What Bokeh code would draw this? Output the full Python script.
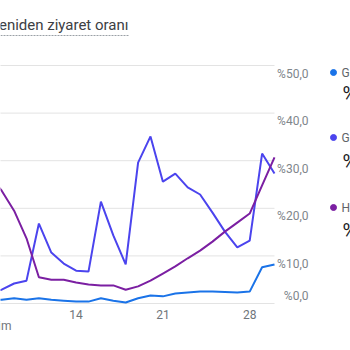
from bokeh.plotting import figure
from bokeh.models import Range1d, ColumnDataSource
from bokeh.embed import file_html
from bokeh.resources import INLINE
from bokeh.core.properties import value

# ---------------- data ----------------
title_text = "Yeniden ziyaret oranı"
days = list(range(7, 31))
blue_vals = [0.9, 0.8, 1.1, 0.8, 1.1, 0.8, 0.6, 0.4, 0.4, 1.1, 0.6, 0.2,
             1.1, 1.7, 1.5, 2.1, 2.3, 2.5, 2.5, 2.4, 2.3, 2.5, 7.6, 8.2]
indigo_vals = [2.5, 2.9, 4.2, 4.8, 16.8, 10.7, 8.4, 6.9, 6.7, 21.4, 14.3, 8.2,
               29.6, 35.1, 25.6, 27.3, 24.4, 22.9, 19.1, 15.1, 11.8, 13.2, 31.5, 27.3]
purple_vals = [27.0, 23.7, 19.5, 13.7, 5.5, 5.0, 5.0, 4.4, 4.0, 3.8, 3.8, 2.9,
               3.6, 4.8, 6.3, 7.8, 9.5, 11.1, 13.0, 15.1, 17.0, 18.9, 24.8, 30.7]
series_names = ["Google / organic", "Google / cpc", "Hepsi"]
series_colors = ["#1a73e8", "#4b44ee", "#7b1fa2"]
x_ticks = [14, 21, 28]
x_tick_labels = ["14", "21", "28"]
month_label = "Ekim"
y_ticks = [0, 10, 20, 30, 40, 50]
y_tick_labels = ["%0,0", "%10,0", "%20,0", "%30,0", "%40,0", "%50,0"]

FONT = "Roboto"
series_vals = [blue_vals, indigo_vals, purple_vals]

# ---------------- layout (pixels) ----------------
W, H = 350, 350
plot_left, plot_right, plot_top, plot_bottom = 0, 274, 65, 303
x_min, x_max = 7.903, days[-1]
y_min, y_max = 0, 50
day_px = (plot_right - plot_left) / (x_max - x_min)
pct_px = (plot_bottom - plot_top) / (y_max - y_min)

p = figure(width=W, height=H, x_range=Range1d(0, W), y_range=Range1d(H, 0),
           output_backend="svg", toolbar_location=None,
           x_axis_location=None, y_axis_location=None, min_border=0)
p.grid.visible = False
p.outline_line_color = None
p.background_fill_color = "white"
p.border_fill_color = "white"

# data scales spanning the whole canvas, so that the chart area sits in the frame
p.extra_x_ranges = {"day": Range1d(x_min - plot_left / day_px, x_min + (W - plot_left) / day_px)}
p.extra_y_ranges = {"pct": Range1d(y_min - (H - plot_bottom) / pct_px, y_max + plot_top / pct_px)}

# gridlines
p.segment(x0=[days[0]] * len(y_ticks), x1=[days[-1]] * len(y_ticks), y0=y_ticks, y1=y_ticks,
          x_range_name="day", y_range_name="pct", line_color="#e3e3e3", line_width=1)

# series
src = ColumnDataSource(dict(day=days, blue=blue_vals, indigo=indigo_vals, purple=purple_vals))
for col, color in zip(["blue", "indigo", "purple"], series_colors):
    p.line(x="day", y=col, source=src, x_range_name="day", y_range_name="pct",
           line_color=color, line_width=2)

# y tick labels (right side)
p.text(x=[days[-1]] * len(y_ticks), y=y_ticks, text=y_tick_labels,
       x_offset=34, y_offset=[(8 if t > 0 else -8) for t in y_ticks],
       x_range_name="day", y_range_name="pct",
       text_align="right", text_baseline="alphabetic",
       text_font=value(FONT), text_font_size="12px", text_color="#80868b")

# x tick labels
p.text(x=x_ticks, y=[0] * len(x_ticks), text=x_tick_labels, y_offset=11,
       x_range_name="day", y_range_name="pct",
       text_align="center", text_baseline="alphabetic",
       text_font=value(FONT), text_font_size="12px", text_color="#70757a")
p.text(x=[11], y=[325], text=[month_label], text_align="right", text_baseline="alphabetic",
       text_font=value(FONT), text_font_size="12px", text_color="#70757a")

# title with dashed underline
p.text(x=[128], y=[24.5], text=[title_text], text_align="right",
       text_baseline="alphabetic", text_font=value(FONT),
       text_font_size="15px", text_color="#3c4043")
p.line(x=[0, 128], y=[35, 35], line_color="#9aa0a6", line_width=1, line_dash="2 1")

# legend on the right
dot_y = [72, 137, 207]
val_y = [93, 161, 230]
totals = ["%" + f"{sum(v) / len(v):.1f}".replace(".", ",") for v in series_vals]
p.scatter(x=[333] * 3, y=dot_y, size=6, color=series_colors, marker="circle")
p.text(x=[341] * 3, y=[d + 0.5 for d in dot_y], text=series_names,
       text_baseline="alphabetic", text_font=value(FONT), text_font_size="12px",
       text_color="#5f6368")
p.text(x=[342] * 3, y=val_y, text=totals, text_baseline="alphabetic",
       text_font=value(FONT), text_font_size="20px", text_color="#202124")

open("out.html", "w").write(file_html(p, INLINE))
